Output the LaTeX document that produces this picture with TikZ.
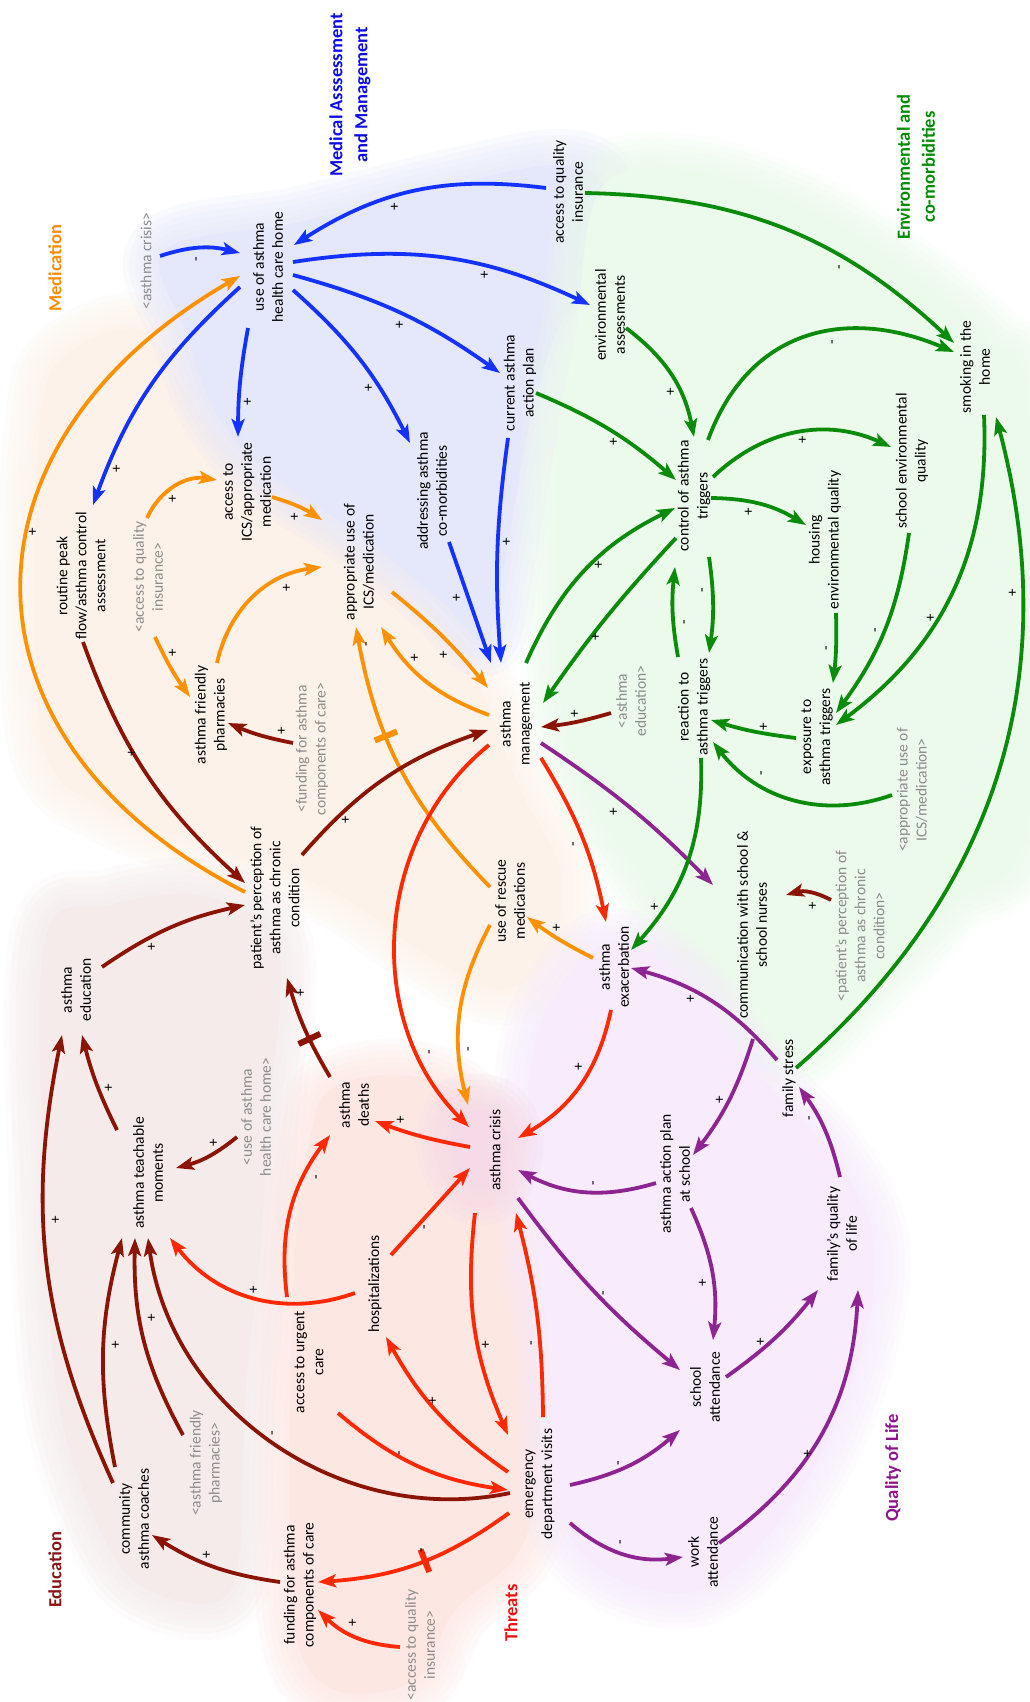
\documentclass[tikz,border=0pt]{standalone}
\usepackage{fontspec}
\setmainfont{Carlito}
\usetikzlibrary{arrows.meta,calc,decorations.markings}

% link colours
\definecolor{cBlue}{RGB}{20,50,255}
\definecolor{cOrange}{RGB}{255,145,0}
\definecolor{cDark}{RGB}{140,20,5}
\definecolor{cRed}{RGB}{255,40,0}
\definecolor{cPurple}{RGB}{142,36,146}
\definecolor{cGreen}{RGB}{10,140,10}
\definecolor{cGray}{RGB}{140,140,140}
% title colours
\definecolor{tBlue}{RGB}{10,10,235}
\definecolor{tOrange}{RGB}{255,140,0}
\definecolor{tGreen}{RGB}{0,140,0}
\definecolor{tDark}{RGB}{140,20,20}
\definecolor{tRed}{RGB}{235,20,20}
\definecolor{tPurple}{RGB}{140,20,140}
% sector backgrounds
\definecolor{bgBlue}{RGB}{229,231,250}
\definecolor{bgGreen}{RGB}{235,250,235}
\definecolor{bgPeach}{RGB}{253,242,233}
\definecolor{bgEdu}{RGB}{245,235,235}
\definecolor{bgThreat}{RGB}{253,231,227}
\definecolor{bgPurple}{RGB}{247,235,252}
\definecolor{bgGlow}{RGB}{246,218,232}

% soft-edged sector: faded halo strokes, then a flat fill
\newcommand\softregion[2]{%
  \foreach \w in {72,60,48,36,24,12}{\draw[#1, line width=\w pt, opacity=0.2, line join=round] #2;}
  \fill[#1] #2;}

% polarity sign placed beside a link
\newcounter{polc}
\newcommand\pol[3]{\stepcounter{polc}\node[pol] (pol\arabic{polc}) at (#1,-#2) {#3};}

\tikzset{
  var/.style={rotate=90, align=center, font=\fontsize{15.5}{19}\selectfont, inner sep=2pt},
  ghost/.style={var, text=cGray},
  sector/.style={rotate=90, align=center, font=\bfseries\fontsize{18.5}{25}\selectfont},
  pol/.style={rotate=90, font=\fontsize{15}{17}\selectfont, inner sep=0pt},
  lnk/.style={line width=3.8pt, -{Stealth[length=18pt,width=13pt,inset=4pt]}},
  lb/.style={lnk, cBlue},
  lo/.style={lnk, cOrange},
  ld/.style={lnk, cDark},
  lr/.style={lnk, cRed},
  lp/.style={lnk, cPurple},
  lg/.style={lnk, cGreen},
  delay/.style 2 args={postaction={decorate}, decoration={markings,
      mark=at position #1 with {\draw[#2, line width=6pt, -] (0,-12pt) -- (0,12pt);}}}
}

\begin{document}
\begin{tikzpicture}[x=1pt,y=1pt]
\useasboundingbox (0,0) rectangle (1029,-1702);
\fill[white] (0,0) rectangle (1029,-1702);

% ---------- sector backgrounds ----------
\softregion{bgPeach}{plot[smooth cycle,tension=0.6] coordinates {(60,-360) (140,-330) (190,-400) (250,-470) (330,-530) (420,-610) (480,-690) (520,-790) (560,-870) (550,-950) (500,-990) (420,-950) (330,-890) (220,-850) (110,-810) (45,-750) (35,-560) (40,-430)}}
\softregion{bgEdu}{plot[smooth cycle,tension=0.6] coordinates {(45,-940) (110,-905) (200,-895) (270,-930) (280,-1000) (270,-1100) (260,-1250) (245,-1400) (240,-1550) (220,-1600) (160,-1595) (110,-1550) (60,-1410) (45,-1200)}}
\softregion{bgThreat}{plot[smooth cycle,tension=0.6] coordinates {(330,-1090) (400,-1075) (465,-1100) (510,-1170) (530,-1300) (540,-1450) (520,-1550) (455,-1610) (415,-1680) (335,-1690) (295,-1630) (290,-1450) (295,-1250) (310,-1140)}}
\softregion{bgBlue}{plot[smooth cycle,tension=0.6] coordinates {(165,-250) (300,-222) (450,-185) (560,-165) (605,-190) (595,-270) (555,-335) (528,-430) (505,-560) (485,-640) (440,-600) (360,-535) (265,-470) (215,-410) (185,-330)}}
\softregion{bgGreen}{plot[smooth cycle,tension=0.6] coordinates {(600,-190) (686,-170) (800,-205) (900,-265) (990,-340) (1029,-410) (1029,-820) (950,-905) (865,-995) (790,-1055) (705,-990) (645,-885) (590,-800) (560,-700) (555,-560) (558,-430) (575,-340)}}
\softregion{bgPurple}{plot[smooth cycle,tension=0.6] coordinates {(550,-1005) (605,-945) (680,-975) (755,-1070) (840,-1165) (875,-1260) (845,-1400) (780,-1520) (700,-1590) (610,-1575) (560,-1510) (550,-1350) (530,-1200) (530,-1080)}}
\softregion{bgGlow}{plot[smooth cycle,tension=0.8] coordinates {(470,-1110) (500,-1120) (505,-1160) (480,-1190) (455,-1160) (455,-1125)}}

% ---------- sector titles ----------
\node[sector, text=tBlue] (tmed) at (350,-95) {Medical Asssessment\\and Management};
\node[sector, text=tOrange] (tmedic) at (55,-268) {Medication};
\node[sector, text=tGreen] (tenv) at (916,-167) {Environmental and\\co-morbidities};
\node[sector, text=tDark] (tedu) at (55,-1570) {Education};
\node[sector, text=tRed] (tthr) at (511,-1613) {Threats};
\node[sector, text=tPurple] (tqol) at (893,-1468) {Quality of Life};

% ---------- variables ----------
\node[var] (uhc) at (268,-267) {use of asthma\\health care home};
\node[ghost] (cG) at (146,-261) {<asthma crisis>};
\node[var] (insur) at (568,-192) {access to quality\\insurance};
\node[var] (envass) at (610,-315) {environmental\\assessments};
\node[var] (cap) at (520,-383) {current asthma\\action plan};
\node[var] (addr) at (432,-491) {addressing asthma\\co-morbidities};
\node[var] (ics) at (247,-492) {access to\\ICS/appropriate\\medication};
\node[var] (rpf) at (81,-576) {routine peak\\flow/asthma control\\assessment};
\node[ghost] (insA) at (148,-577) {<access to quality\\insurance>};
\node[var] (pharm) at (211,-715) {asthma friendly\\pharmacies};
\node[ghost] (fundA) at (312,-749) {<funding for asthma\\components of care>};
\node[var] (appr) at (359,-562) {appropriate use of\\ICS/medication};
\node[var] (am) at (516,-724) {asthma\\management};
\node[ghost] (eduA) at (631,-701) {<asthma\\education>};
\node[var] (ctrl) at (694,-496) {control of asthma\\triggers};
\node[var] (smoke) at (975,-367) {smoking in the\\home};
\node[var] (schenv) at (912,-461) {school environmental\\quality};
\node[var] (housing) at (825,-540) {housing\\environmental quality};
\node[var] (react) at (694,-707) {reaction to\\asthma triggers};
\node[var] (expo) at (817,-737) {exposure to\\asthma triggers};
\node[ghost] (apprA) at (912,-790) {<appropriate use of\\ICS/medication>};
\node[var] (pp) at (275,-898) {patient's perception of\\asthma as chronic\\condition};
\node[var] (edu) at (76,-990) {asthma\\education};
\node[var] (teach) at (148,-1173) {asthma teachable\\moments};
\node[ghost] (uhcA) at (256,-1117) {<use of asthma\\health care home>};
\node[var] (deaths) at (354,-1105) {asthma\\deaths};
\node[var] (rescue) at (510,-901) {use of rescue\\medications};
\node[var] (exac) at (614,-967) {asthma\\exacerbation};
\node[var] (crisis) at (495,-1150) {asthma crisis};
\node[var] (aps) at (675,-1174) {asthma action plan\\at school};
\node[var] (hosp) at (375,-1284) {hospitalizations};
\node[var] (comm) at (752,-925) {communication with school \&\\school nurses};
\node[ghost] (ppA) at (860,-926) {<patient's perception of\\asthma as chronic\\condition>};
\node[var] (fstress) at (789,-1078) {family stress};
\node[var] (fqol) at (842,-1234) {family's quality\\of life};
\node[var] (coach) at (134,-1519) {community\\asthma coaches};
\node[ghost] (pharmA) at (206,-1463) {<asthma friendly\\pharmacies>};
\node[var] (urgent) at (309,-1362) {access to urgent\\care};
\node[var] (fund) at (300,-1585) {funding for asthma\\components of care};
\node[var] (ed) at (540,-1484) {emergency\\department visits};
\node[ghost] (insB) at (420,-1645) {<access to quality\\insurance>};
\node[var] (satt) at (705,-1387) {school\\attendance};
\node[var] (watt) at (703,-1552) {work\\attendance};

% ---------- medical assessment links ----------
\draw[lb] ($(cG)+(14,5)$) to[bend left=16] ($(uhc)+(-28,14)$);
\draw[lb] ($(insur)+(-22,4)$) to[bend right=20] ($(uhc)+(26,22)$);
\draw[lb] ($(uhc)+(25,5)$) to[bend left=17] ($(envass)+(-20,10)$);
\draw[lb] ($(uhc)+(25,-8)$) to[bend left=10] ($(cap)+(-20,10)$);
\draw[lb] ($(uhc)+(25,-23)$) to[bend left=11] ($(addr)+(-22,48)$);
\draw[lb] ($(uhc)+(-20,-61)$) to[bend right=5] ($(ics)+(-9,55)$);
\draw[lb] ($(uhc)+(-28,-20)$) to[bend right=14] ($(rpf)+(12,71)$);
\draw[lb] ($(cap)+(-12,-55)$) to[bend right=6] ($(am)+(-15,61)$);
\draw[lb] ($(addr)+(17,-51)$) -- ($(am)+(-25,61)$);

% ---------- medication links ----------
\draw[lo] ($(pp)+(-30,6)$) to[out=153,in=210,looseness=1.39] ($(uhc)+(-28,-9)$);
\draw[lo] ($(insA)+(-1,59)$) to[bend left=37] ($(ics)+(-30,12)$);
\draw[lo] ($(insA)+(7,-60)$) to[bend right=5] ($(pharm)+(-21,18)$);
\draw[lo] ($(ics)+(25,-5)$) to[bend left=8] ($(appr)+(-37,42)$);
\draw[lo] ($(pharm)+(6,52)$) to[bend left=35] ($(appr)+(-37,-5)$);
\draw[lo] ($(appr)+(33,-30)$) to[bend left=6] ($(am)+(-28,36)$);
\draw[lo] ($(am)+(-27,9)$) to[bend left=19] ($(appr)+(22,-65)$);
\draw[lo, delay={0.62}{cOrange}] ($(rescue)+(-20,14)$) to[bend left=17] ($(appr)+(-3,-65)$);
\draw[lo] ($(exac)+(-21,9)$) to[bend left=5] ($(rescue)+(17,-16)$);
\draw[lo] ($(rescue)+(-20,-24)$) to[bend right=21] ($(crisis)+(-27,45)$);

% ---------- education links ----------
\draw[ld] ($(rpf)+(2,-66)$) to[bend right=14] ($(pp)+(-30,15)$);
\draw[ld] ($(pp)+(27,43)$) to[bend left=15] ($(am)+(-28,-6)$);
\draw[ld] ($(fundA)+(-19,6)$) to[bend left=6] ($(pharm)+(17,-8)$);
\draw[ld] ($(eduA)+(-20,-12)$) to[bend left=5] ($(am)+(25,-3)$);
\draw[ld] ($(edu)+(26,23)$) to[bend left=11] ($(pp)+(-30,-7)$);
\draw[ld, delay={0.4}{cDark}] ($(deaths)+(-24,28)$) to[bend left=7] ($(pp)+(12,-80)$);
\draw[ld] ($(teach)+(-31,43)$) to[bend left=6] ($(edu)+(6,-45)$);
\draw[ld] ($(coach)+(-21,36)$) to[bend left=18] ($(edu)+(-14,-45)$);
\draw[ld] ($(uhcA)+(-19,-20)$) to[bend left=12] ($(teach)+(28,5)$);
\draw[ld] ($(coach)+(-19,52)$) to[bend left=13] ($(teach)+(-26,-65)$);
\draw[ld] ($(pharmA)+(-23,28)$) to[bend left=15] ($(teach)+(-13,-65)$);
\draw[ld] ($(ed)+(-30,-9)$) to[bend left=47] ($(teach)+(0,-65)$);
\draw[ld] ($(fund)+(-20,3)$) to[bend left=12] ($(coach)+(18,-16)$);
\draw[ld] ($(ppA)+(-29,26)$) to[bend right=22] ($(comm)+(34,30)$);

% ---------- threat links ----------
\draw[lr] ($(am)+(-27,-21)$) to[bend right=48] ($(crisis)+(-26,23)$);
\draw[lr] ($(am)+(25,-34)$) to[bend left=10] ($(exac)+(-8,45)$);
\draw[lr] ($(exac)+(-3,-43)$) to[bend left=24] ($(crisis)+(23,12)$);
\draw[lr] ($(crisis)+(-25,3)$) to[bend left=5] ($(deaths)+(21,-16)$);
\draw[lr] ($(hosp)+(16,29)$) -- ($(crisis)+(-25,-18)$);
\draw[lr] ($(crisis)+(-20,-63)$) to[bend right=15] ($(ed)+(-32,49)$);
\draw[lr] ($(ed)+(3,67)$) to[bend right=7] ($(crisis)+(21,-63)$);
\draw[lr] ($(ed)+(-32,12)$) to[bend left=13] ($(hosp)+(11,-53)$);
\draw[lr] ($(urgent)+(29,-51)$) to[bend right=16] ($(ed)+(-32,-6)$);
\draw[lr] ($(hosp)+(-20,-9)$) to[bend left=36] ($(teach)+(22,-65)$);
\draw[lr] ($(urgent)+(-22,65)$) to[bend left=22] ($(deaths)+(-24,-30)$);
\draw[lr, delay={0.47}{cRed}] ($(ed)+(-31,-29)$) to[bend left=16] ($(fund)+(18,3)$);
\draw[lr] ($(insB)+(-20,-2)$) to[bend left=20] ($(fund)+(18,-25)$);

% ---------- quality of life links ----------
\draw[lp] ($(am)+(25,-19)$) to[bend left=6] ($(comm)+(-39,40)$);
\draw[lp] ($(fstress)+(-12,18)$) to[bend right=17] ($(exac)+(17,-1)$);
\draw[lp] ($(comm)+(1,-114)$) to[bend left=10] ($(aps)+(18,19)$);
\draw[lp] ($(fqol)+(-2,57)$) to[bend right=11] ($(fstress)+(10,-9)$);
\draw[lp] ($(aps)+(-19,-9)$) to[bend left=22] ($(crisis)+(23,-20)$);
\draw[lp] ($(crisis)+(23,-48)$) to[bend right=7] ($(satt)+(-25,17)$);
\draw[lp] ($(aps)+(16,-34)$) to[bend left=15] ($(satt)+(8,47)$);
\draw[lp] ($(satt)+(21,10)$) to[bend right=8] ($(fqol)+(-24,-56)$);
\draw[lp] ($(watt)+(16,9)$) to[bend right=26] ($(fqol)+(16,-56)$);
\draw[lp] ($(ed)+(30,-1)$) to[bend right=14] ($(satt)+(-25,-43)$);
\draw[lp] ($(ed)+(30,-39)$) to[bend right=24] ($(watt)+(-20,-5)$);

% ---------- environmental links ----------
\draw[lg] ($(insur)+(17,-1)$) to[bend left=21] ($(smoke)+(-21,24)$);
\draw[lg] ($(envass)+(16,-13)$) to[bend left=21] ($(ctrl)+(0,59)$);
\draw[lg] ($(cap)+(16,-10)$) to[bend left=9] ($(ctrl)+(-18,16)$);
\draw[lg] ($(ctrl)+(14,56)$) to[out=70,in=157,looseness=1.15] ($(smoke)+(-21,15)$);
\draw[lg] ($(ctrl)+(19,19)$) to[bend left=34] ($(schenv)+(-21,14)$);
\draw[lg] ($(ctrl)+(17,-2)$) to[bend left=15] ($(housing)+(-19,15)$);
\draw[lg] ($(ctrl)+(15,-61)$) to[bend left=8] ($(react)+(15,54)$);
\draw[lg] ($(react)+(-16,50)$) to[bend left=8] ($(ctrl)+(-19,-71)$);
\draw[lg] ($(ctrl)+(-18,-42)$) to[bend right=4] ($(am)+(27,21)$);
\draw[lg] ($(am)+(10,61)$) to[bend left=20] ($(ctrl)+(-19,-12)$);
\draw[lg] ($(housing)+(11,-73)$) to[bend left=4] ($(expo)+(16,54)$);
\draw[lg] ($(schenv)+(-3,-72)$) to[bend left=14] ($(expo)+(19,24)$);
\draw[lg] ($(smoke)+(9,-48)$) to[bend left=28] ($(expo)+(19,12)$);
\draw[lg] ($(expo)+(-21,-1)$) to[bend left=5] ($(react)+(17,-13)$);
\draw[lg] ($(apprA)+(-20,-5)$) to[bend left=36] ($(react)+(19,-35)$);
\draw[lg] ($(fstress)+(7,10)$) to[bend right=32] ($(smoke)+(21,-50)$);
\draw[lg] ($(react)+(7,-51)$) to[bend left=22] ($(exac)+(17,17)$);

% ---------- polarity signs ----------
\pol{198}{259}{-}   \pol{395}{207}{+}  \pol{485}{275}{+}  \pol{400}{325}{+}
\pol{369}{388}{+}   \pol{248}{402}{+}  \pol{117}{469}{+}  \pol{507}{542}{+}
\pol{457}{598}{+}   \pol{33}{532}{+}   \pol{173}{499}{+}  \pol{173}{653}{+}
\pol{295}{517}{+}   \pol{287}{588}{+}  \pol{444}{655}{+}  \pol{415}{658}{+}
\pol{368}{644}{-}   \pol{557}{928}{+}  \pol{470}{1049}{-} \pol{132}{753}{+}
\pol{346}{820}{+}   \pol{282}{731}{+}  \pol{575}{714}{+}  \pol{152}{947}{+}
\pol{301}{993}{+}   \pol{109}{1088}{+} \pol{56}{1220}{+}  \pol{214}{1143}{+}
\pol{116}{1345}{+}  \pol{152}{1318}{+} \pol{274}{1433}{-} \pol{207}{1555}{+}
\pol{431}{1052}{-}  \pol{575}{844}{-}  \pol{579}{1067}{+} \pol{401}{1120}{+}
\pol{426}{1227}{-}  \pol{486}{1345}{+} \pol{533}{1343}{-} \pol{433}{1401}{+}
\pol{401}{1453}{-}  \pol{254}{1290}{+} \pol{318}{1177}{-} \pol{423}{1550}{-}
\pol{353}{1623}{+}  \pol{614}{812}{+}  \pol{691}{999}{+}  \pol{720}{1100}{+}
\pol{811}{1118}{-}  \pol{595}{1183}{-} \pol{605}{1293}{-} \pol{703}{1283}{+}
\pol{761}{1342}{+}  \pol{808}{1454}{+} \pol{620}{1463}{-} \pol{622}{1542}{-}
\pol{813}{906}{+}   \pol{841}{267}{-}  \pol{671}{392}{+}  \pol{614}{442}{+}
\pol{834}{342}{-}   \pol{803}{440}{+}  \pol{749}{512}{+}  \pol{704}{590}{-}
\pol{686}{622}{-}   \pol{596}{637}{+}  \pol{599}{565}{+}  \pol{828}{648}{-}
\pol{877}{630}{-}   \pol{931}{618}{+}  \pol{764}{727}{+}  \pol{763}{773}{-}
\pol{1013}{593}{+}  \pol{655}{907}{+}
\end{tikzpicture}
\end{document}
